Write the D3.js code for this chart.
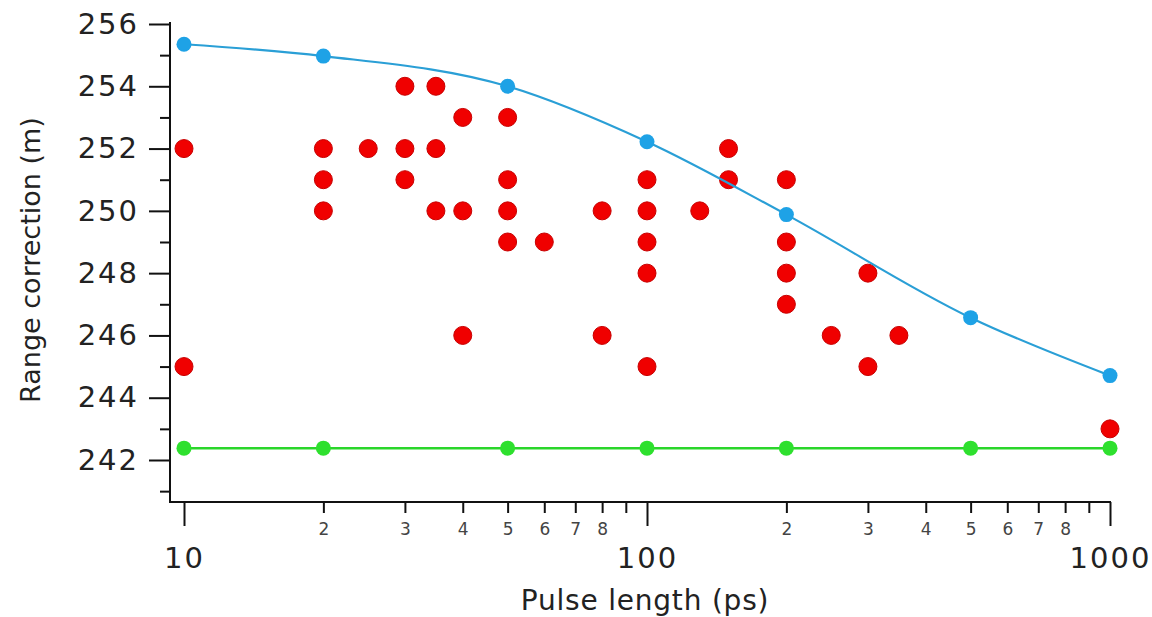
<!DOCTYPE html>
<html><head><meta charset="utf-8">
<script src="https://cdn.jsdelivr.net/npm/d3@7"></script>
<style>body{margin:0;background:#fff}svg{display:block}</style>
</head><body>
<script>
// ---- data ----
const blueX = [10, 20, 50, 100, 200, 500, 1000];
const blueY = [255.35, 254.97, 254.0, 252.22, 249.88, 246.57, 244.71];
const greenX = [10, 20, 50, 100, 200, 500, 1000];
const greenY = [242.38, 242.38, 242.38, 242.38, 242.38, 242.38, 242.38];
const redX = [10, 10, 20, 20, 20, 25, 30, 30, 30, 35, 35, 35, 40, 40, 40,
  50, 50, 50, 50, 60, 80, 80, 100, 100, 100, 100, 100, 130, 150, 150,
  200, 200, 200, 200, 250, 300, 300, 350, 1000];
const redY = [252, 245, 252, 251, 250, 252, 254, 252, 251, 254, 252, 250, 253, 250, 246,
  253, 251, 250, 249, 249, 250, 246, 251, 250, 249, 248, 245, 250, 252, 251,
  251, 249, 248, 247, 246, 248, 245, 246, 243];
const yMajor = [242, 244, 246, 248, 250, 252, 254, 256];
const yMinor = [241, 243, 245, 247, 249, 251, 253, 255];
const xMajor = [10, 100, 1000];
const xMinor = [20, 30, 40, 50, 60, 70, 80, 90, 200, 300, 400, 500, 600, 700, 800, 900];
const xMinorLabel = d => { const m = d / Math.pow(10, Math.floor(Math.log10(d))); return m < 9 ? String(Math.round(m)) : ""; };
const xTitle = "Pulse length (ps)";
const yTitle = "Range correction (m)";

// ---- layout ----
const W = 1152, H = 617;
const axisLeft = 170, axisBottom = 502, axisTop = 22, axisRight = 1111;
const font = "'DejaVu Sans', Verdana, sans-serif";

const svg = d3.select("body").append("svg").attr("width", W).attr("height", H);
const x = d3.scaleLog().domain([10, 1000]).range([184, 1110]);
const y = d3.scaleLinear().domain([242, 256]).range([460, 24]);

// axes lines
svg.append("line").attr("x1", axisLeft).attr("x2", axisLeft).attr("y1", axisTop).attr("y2", axisBottom)
  .attr("stroke", "#111").attr("stroke-width", 2);
svg.append("line").attr("x1", axisLeft - 1).attr("x2", axisRight).attr("y1", axisBottom).attr("y2", axisBottom)
  .attr("stroke", "#111").attr("stroke-width", 2);

// y axis
const gy = svg.append("g").attr("transform", `translate(${axisLeft},0)`);
gy.call(d3.axisLeft(y).tickValues(yMajor).tickSize(21).tickPadding(10).tickFormat(d3.format("d")));
gy.append("g").call(d3.axisLeft(y).tickValues(yMinor).tickSize(10).tickFormat(""));
gy.selectAll(".domain").remove();
gy.selectAll("line").attr("stroke", "#111").attr("stroke-width", 2);
gy.selectAll("text").attr("font-family", font).attr("font-size", 29).attr("letter-spacing", 2).attr("fill", "#222");

// x axis
const gx = svg.append("g").attr("transform", `translate(0,${axisBottom})`);
gx.call(d3.axisBottom(x).tickValues(xMajor).tickSize(24).tickPadding(21).tickFormat(d3.format("d")));
gx.selectAll("text").attr("font-family", font).attr("font-size", 29).attr("letter-spacing", 2).attr("fill", "#222");
const gxm = gx.append("g").call(d3.axisBottom(x).tickValues(xMinor).tickSize(11).tickPadding(10).tickFormat(xMinorLabel));
gxm.selectAll("text").attr("font-family", font).attr("font-size", 17).attr("fill", "#444");
gx.selectAll(".domain").remove();
gx.selectAll("line").attr("stroke", "#111").attr("stroke-width", 2);

// titles
svg.append("text").attr("x", 645).attr("y", 610).attr("text-anchor", "middle")
  .attr("font-family", font).attr("font-size", 28).attr("letter-spacing", 0.8).attr("fill", "#222").text(xTitle);
svg.append("text").attr("transform", "translate(40,260) rotate(-90)").attr("text-anchor", "middle")
  .attr("font-family", font).attr("font-size", 27).attr("fill", "#222").text(yTitle);

// series
const blue = blueX.map((d, i) => [d, blueY[i]]);
const green = greenX.map((d, i) => [d, greenY[i]]);
const red = redX.map((d, i) => [d, redY[i]]);
const line = d3.line().x(d => x(d[0])).y(d => y(d[1]));

svg.append("path").datum(green).attr("d", line).attr("fill", "none").attr("stroke", "#2ad62a").attr("stroke-width", 2.5);
svg.selectAll(".g").data(green).join("circle").attr("cx", d => x(d[0])).attr("cy", d => y(d[1])).attr("r", 7.5).attr("fill", "#2ee02e");

svg.selectAll(".r").data(red).join("circle").attr("cx", d => x(d[0])).attr("cy", d => y(d[1])).attr("r", 9)
  .attr("fill", "#f00000").attr("stroke", "#c80000").attr("stroke-width", 1);

svg.append("path").datum(blue).attr("d", line.curve(d3.curveMonotoneX)).attr("fill", "none").attr("stroke", "#2a9fd6").attr("stroke-width", 2.2);
svg.selectAll(".b").data(blue).join("circle").attr("cx", d => x(d[0])).attr("cy", d => y(d[1])).attr("r", 7.5).attr("fill", "#1ea2e6");
</script>
</body></html>
